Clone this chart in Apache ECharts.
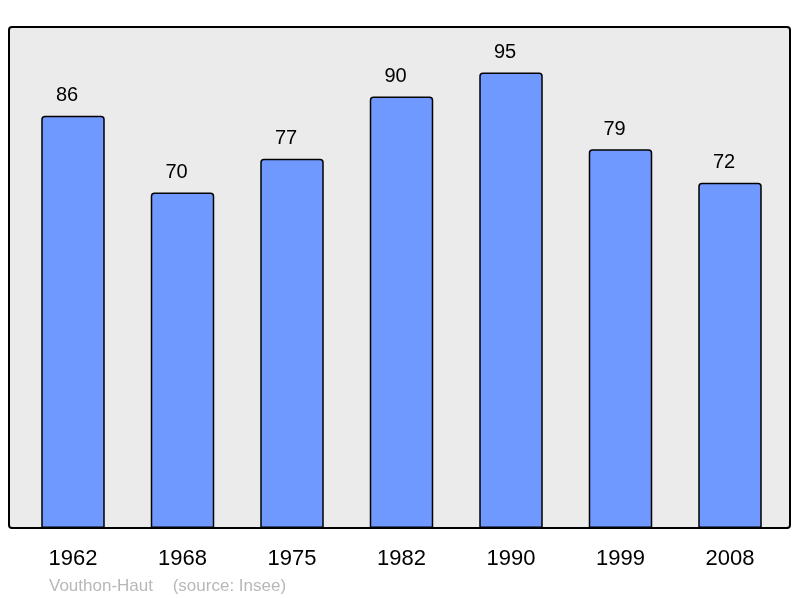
<!DOCTYPE html>
<html>
<head>
<meta charset="utf-8">
<script src="https://cdn.jsdelivr.net/npm/echarts@6/dist/echarts.min.js"></script>
<style>
html,body{margin:0;padding:0;background:#fff;}
#chart{width:800px;height:598px;}
</style>
</head>
<body>
<div id="chart"></div>
<script>
const years = ['1962', '1968', '1975', '1982', '1990', '1999', '2008'];
const population = [86, 70, 77, 90, 95, 79, 72];
const placeName = 'Vouthon-Haut';
const sourceText = '(source: Insee)';

const chart = echarts.init(document.getElementById('chart'), null, {renderer: 'canvas'});
chart.setOption({
  animation: false,
  backgroundColor: '#ffffff',
  textStyle: {fontFamily: 'Liberation Sans, Arial, sans-serif'},
  graphic: [
    {
      type: 'rect', z: -10, silent: true,
      shape: {x: 9, y: 27, width: 781, height: 501, r: 3},
      style: {fill: '#ebebeb', stroke: '#000', lineWidth: 2}
    },
    {
      type: 'text', left: 49, top: 578,
      style: {text: placeName, fill: '#b8b8b8', font: '17px "Liberation Sans", Arial, sans-serif'}
    },
    {
      type: 'text', left: 172.7, top: 578,
      style: {text: sourceText, fill: '#b8b8b8', font: '17px "Liberation Sans", Arial, sans-serif'}
    }
  ],
  grid: {left: 18.25, right: 15.25, top: 27, bottom: 70, containLabel: false},
  xAxis: {
    type: 'category',
    data: years,
    axisLine: {show: false},
    axisTick: {show: false},
    axisLabel: {color: '#000', fontSize: 22, margin: 20, fontFamily: 'Liberation Sans, Arial, sans-serif'}
  },
  yAxis: {
    type: 'value', min: 0, max: 104.5,
    show: false,
    splitLine: {show: false}
  },
  series: [{
    type: 'bar',
    data: population,
    barWidth: 63.5,
    itemStyle: {color: '#7099ff', borderColor: '#000', borderWidth: 1.5, borderRadius: [3, 3, 0, 0]},
    label: {show: true, position: 'top', distance: 10, offset: [-6, 0], color: '#000', fontSize: 20, fontFamily: 'Liberation Sans, Arial, sans-serif'}
  }]
});
</script>
</body>
</html>
